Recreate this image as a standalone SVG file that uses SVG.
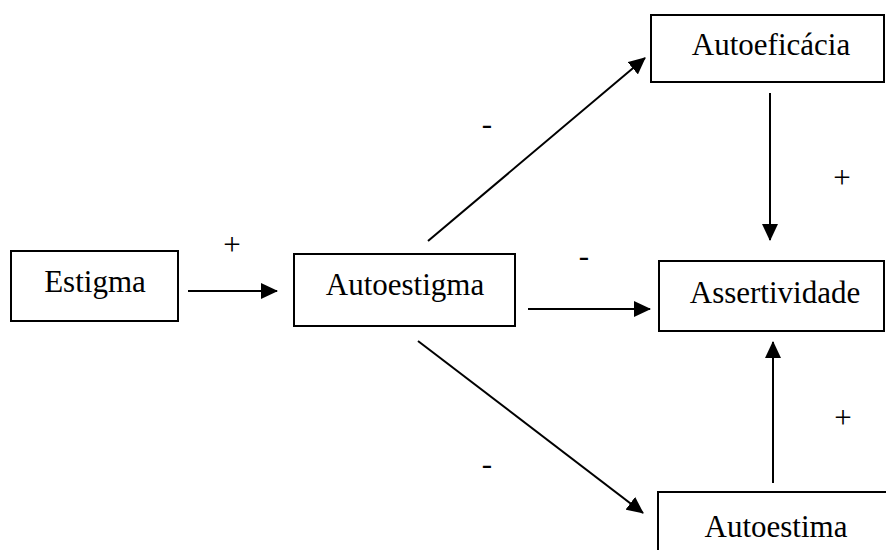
<svg xmlns="http://www.w3.org/2000/svg" width="886" height="550" viewBox="0 0 886 550">
<defs>
<marker id="ah" markerUnits="userSpaceOnUse" markerWidth="17" markerHeight="16" refX="16" refY="8" orient="auto">
<path d="M0,0 L17,8 L0,16 Z" fill="#000"/>
</marker>
<style>
.box{fill:#fff;stroke:#000;stroke-width:2}
.t{font-family:"Liberation Serif","Times New Roman",serif;font-size:31px;fill:#000;text-anchor:middle}
.c{stroke:#000;stroke-width:2;fill:none;marker-end:url(#ah)}
</style>
</defs>
<rect width="886" height="550" fill="#fff"/>
<g id="estigma"><rect class="box" x="11" y="251" width="167" height="70"/><text class="t" x="95" y="292">Estigma</text></g>
<g id="autoestigma"><rect class="box" x="294" y="254" width="221" height="72"/><text class="t" x="405" y="295">Autoestigma</text></g>
<g id="autoeficacia"><rect class="box" x="651" y="15" width="233" height="67"/><text class="t" x="771" y="55">Autoeficácia</text></g>
<g id="assertividade"><rect class="box" x="659" y="261" width="225" height="70"/><text class="t" x="775" y="303">Assertividade</text></g>
<g id="autoestima"><rect class="box" x="658" y="492" width="240" height="70"/><text class="t" x="776" y="537">Autoestima</text></g>
<g id="connectors">
<line class="c" x1="188" y1="291" x2="277" y2="291"/>
<line class="c" x1="528" y1="309" x2="650" y2="309"/>
<line class="c" x1="428" y1="241" x2="645" y2="58"/>
<line class="c" x1="418" y1="341" x2="643" y2="513"/>
<line class="c" x1="770" y1="93" x2="770" y2="240"/>
<line class="c" x1="773" y1="483" x2="773" y2="342"/>
</g>
<g id="labels">
<text class="t" x="232" y="255">+</text>
<text class="t" x="584" y="266">-</text>
<text class="t" x="487" y="134">-</text>
<text class="t" x="487" y="474">-</text>
<text class="t" x="842" y="188">+</text>
<text class="t" x="843" y="428">+</text>
</g>
</svg>
